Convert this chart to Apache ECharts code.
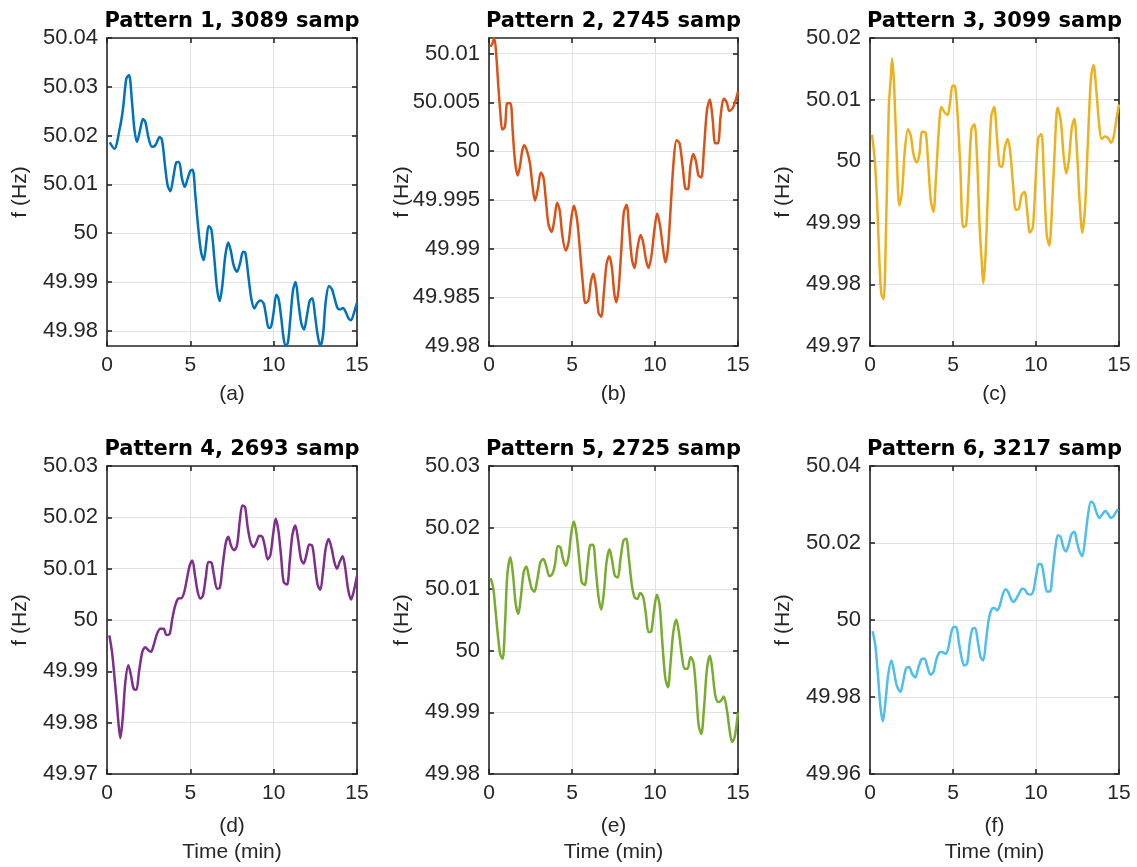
<!DOCTYPE html>
<html>
<head>
<meta charset="utf-8">
<script src="https://cdn.jsdelivr.net/npm/echarts@6/dist/echarts.min.js"></script>
<style>
html,body{margin:0;padding:0;background:#fff}
#chart{width:1137px;height:867px}
</style>
</head>
<body>
<div id="chart"></div>
<script>
// Time axis (minutes) and grid frequency (Hz) for each recorded pattern
const t1 = [0.16,0.44,0.76,0.96,1.16,1.32,1.5,1.64,1.8,2.0,2.16,2.3,2.5,2.7,2.9,3.16,3.3,3.5,3.64,3.8,4.0,4.16,4.32,4.5,4.66,4.84,5.0,5.14,5.3,5.46,5.64,5.8,5.96,6.1,6.26,6.44,6.6,6.76,6.92,7.1,7.28,7.44,7.6,7.8,8.0,8.16,8.3,8.5,8.66,8.84,9.0,9.2,9.4,9.54,9.7,9.84,10.0,10.16,10.3,10.46,10.6,10.74,10.86,11.0,11.16,11.32,11.48,11.66,11.82,12.0,12.16,12.32,12.48,12.64,12.8,12.96,13.12,13.32,13.5,13.66,13.84,14.0,14.16,14.32,14.5,14.64,14.8,15.0];
const f1 = [50.0186,50.0173,50.0214,50.0255,50.0317,50.0324,50.0269,50.0214,50.0187,50.0214,50.0234,50.0228,50.0194,50.0177,50.018,50.0197,50.0191,50.0133,50.0098,50.0086,50.0119,50.0145,50.0146,50.0112,50.0095,50.0112,50.0128,50.013,50.0078,50.0016,49.9962,49.9945,49.9982,50.0015,50.0008,49.9948,49.9887,49.9861,49.9893,49.9955,49.9981,49.9962,49.9934,49.9921,49.9941,49.9962,49.996,49.9907,49.9866,49.9846,49.9856,49.9862,49.9856,49.9832,49.9806,49.9808,49.9839,49.9874,49.9865,49.9825,49.9784,49.9769,49.9777,49.9825,49.9883,49.99,49.9859,49.9815,49.9803,49.9832,49.9861,49.9867,49.9832,49.9791,49.9769,49.9791,49.9859,49.9892,49.9885,49.9866,49.9846,49.9844,49.9847,49.9839,49.9825,49.9822,49.9835,49.9858];

const t2 = [0.08,0.2,0.32,0.44,0.56,0.68,0.8,0.96,1.1,1.29,1.43,1.57,1.73,1.87,2.01,2.13,2.31,2.47,2.61,2.77,2.94,3.12,3.28,3.42,3.58,3.78,3.94,4.1,4.26,4.42,4.62,4.79,4.95,5.11,5.31,5.49,5.65,5.81,5.99,6.13,6.29,6.45,6.6,6.76,6.92,7.08,7.24,7.4,7.54,7.66,7.8,7.96,8.12,8.29,8.44,8.61,8.77,8.94,9.13,9.29,9.45,9.61,9.79,9.97,10.13,10.3,10.46,10.62,10.78,10.94,11.12,11.3,11.48,11.66,11.82,11.98,12.14,12.3,12.46,12.62,12.79,12.95,13.13,13.31,13.47,13.63,13.79,13.96,14.14,14.32,14.48,14.68,14.84,15.0];
const f2 = [50.0107,50.011,50.0116,50.0098,50.0067,50.004,50.0022,50.0025,50.0049,50.0049,50.002,49.9989,49.9975,49.9985,50.0001,50.0006,49.9999,49.9987,49.9966,49.9949,49.9961,49.9978,49.9973,49.9951,49.9925,49.9917,49.993,49.9947,49.9939,49.9913,49.9898,49.9906,49.993,49.9944,49.9929,49.9896,49.9865,49.9844,49.9847,49.9865,49.9874,49.9859,49.9834,49.983,49.9855,49.9884,49.9892,49.9881,49.9855,49.9845,49.9857,49.9896,49.9937,49.9945,49.992,49.9889,49.988,49.99,49.9914,49.9906,49.9889,49.988,49.9893,49.992,49.9936,49.9924,49.9903,49.9886,49.99,49.9941,49.9989,50.0011,50.0008,49.9985,49.9962,49.9961,49.9985,49.9997,49.999,49.9975,49.9973,50.0002,50.0042,50.0053,50.0033,50.0008,50.0008,50.0037,50.0054,50.005,50.0041,50.0044,50.0051,50.0061];

const t3 = [0.12,0.28,0.42,0.56,0.68,0.82,0.97,1.13,1.25,1.33,1.45,1.61,1.77,1.93,2.09,2.29,2.45,2.63,2.82,2.98,3.14,3.34,3.5,3.66,3.82,3.98,4.14,4.3,4.5,4.67,4.83,4.97,5.13,5.29,5.45,5.61,5.79,5.95,6.11,6.29,6.45,6.6,6.72,6.82,6.96,7.12,7.3,7.48,7.64,7.8,7.96,8.12,8.3,8.46,8.62,8.79,8.97,9.13,9.31,9.47,9.63,9.81,9.97,10.13,10.32,10.48,10.64,10.8,10.98,11.14,11.3,11.5,11.66,11.82,11.98,12.15,12.31,12.47,12.63,12.79,12.95,13.11,13.31,13.47,13.63,13.79,13.95,14.16,14.36,14.52,14.68,14.84,15.0];
const f3 = [50.0043,50.0004,49.9939,49.9842,49.9785,49.9776,49.9896,50.0086,50.0135,50.0167,50.0124,50.001,49.9928,49.995,50.0015,50.0052,50.0042,50.001,49.9998,50.0012,50.0048,50.0047,49.9999,49.9937,49.9918,49.9977,50.0048,50.0088,50.0079,50.0075,50.0097,50.0123,50.0121,50.0069,49.9983,49.9893,49.9896,49.9972,50.0052,50.006,50.0004,49.9896,49.9842,49.9802,49.9847,49.9961,50.0072,50.0088,50.0042,49.9993,49.9991,50.0022,50.0036,50.0012,49.9961,49.9921,49.9923,49.9945,49.995,49.9918,49.9884,49.9893,49.9966,50.0037,50.0044,49.9972,49.9882,49.9863,49.9934,50.0026,50.0087,50.0064,50.001,49.998,50.0002,50.0053,50.0069,50.0015,49.9934,49.9884,49.9923,50.0021,50.0135,50.0156,50.0116,50.0064,50.0036,50.004,50.0037,50.003,50.004,50.0067,50.0092];

const t4 = [0.14,0.3,0.44,0.6,0.7,0.8,0.94,1.1,1.28,1.44,1.6,1.76,1.92,2.12,2.3,2.48,2.64,2.8,3.0,3.2,3.4,3.56,3.76,3.92,4.1,4.28,4.48,4.64,4.8,4.96,5.12,5.28,5.44,5.6,5.76,5.92,6.08,6.26,6.42,6.6,6.76,6.94,7.12,7.28,7.44,7.62,7.8,7.96,8.12,8.28,8.44,8.62,8.8,8.96,9.14,9.32,9.48,9.64,9.8,9.96,10.12,10.28,10.44,10.6,10.8,10.96,11.12,11.3,11.46,11.64,11.8,11.96,12.14,12.32,12.48,12.64,12.8,12.96,13.12,13.3,13.48,13.64,13.8,13.96,14.14,14.3,14.46,14.64,14.8,15.0];
const f4 = [49.997,49.9938,49.9892,49.9834,49.9795,49.977,49.9808,49.9879,49.9912,49.9892,49.9866,49.9864,49.9899,49.9938,49.9947,49.9941,49.9938,49.9951,49.9973,49.9983,49.9983,49.9971,49.9973,50.0003,50.0029,50.0042,50.0043,50.0055,50.0081,50.0106,50.0116,50.0087,50.0055,50.0042,50.0048,50.0081,50.0113,50.0112,50.0087,50.0061,50.0062,50.0106,50.0149,50.0162,50.0145,50.0136,50.0145,50.0191,50.0223,50.022,50.0181,50.0151,50.0142,50.0151,50.0164,50.0162,50.0142,50.0118,50.0126,50.0165,50.0197,50.0175,50.0126,50.0074,50.0069,50.0113,50.0165,50.0184,50.0158,50.0119,50.011,50.0126,50.0147,50.0144,50.0106,50.0068,50.0059,50.0094,50.0139,50.0158,50.0139,50.0113,50.01,50.0113,50.0124,50.01,50.0061,50.004,50.0055,50.0086];

const t5 = [0.1,0.26,0.4,0.56,0.68,0.82,0.97,1.1,1.29,1.45,1.61,1.77,1.93,2.09,2.25,2.41,2.57,2.73,2.9,3.1,3.28,3.46,3.64,3.82,3.98,4.14,4.3,4.46,4.62,4.79,4.95,5.11,5.27,5.43,5.59,5.77,5.93,6.09,6.27,6.43,6.6,6.76,6.92,7.08,7.26,7.42,7.58,7.76,7.92,8.1,8.26,8.43,8.61,8.77,8.93,9.11,9.29,9.45,9.61,9.77,9.93,10.11,10.28,10.44,10.62,10.78,10.94,11.1,11.28,11.44,11.62,11.78,11.96,12.14,12.31,12.47,12.63,12.79,12.95,13.13,13.31,13.47,13.63,13.81,13.98,14.14,14.32,14.48,14.64,14.8,15.0];
const f5 = [50.0118,50.0101,50.0063,50.0019,49.9994,49.9987,50.0046,50.0122,50.0152,50.0122,50.0076,50.006,50.009,50.0128,50.0137,50.0119,50.0101,50.0096,50.0114,50.0144,50.0149,50.0136,50.0121,50.0125,50.0141,50.017,50.0168,50.0149,50.0138,50.0152,50.019,50.021,50.019,50.0149,50.0111,50.0107,50.0138,50.0171,50.0172,50.0133,50.0087,50.0067,50.0095,50.0144,50.0165,50.0146,50.0122,50.0119,50.0149,50.0179,50.0182,50.0149,50.0106,50.0087,50.0084,50.0094,50.0087,50.006,50.003,50.0031,50.0063,50.0091,50.0074,50.0014,49.9956,49.9941,49.9982,50.003,50.0051,50.003,49.9992,49.9971,49.9971,49.999,49.9982,49.9938,49.9879,49.9865,49.9906,49.9971,49.9992,49.9965,49.9928,49.9917,49.9919,49.9926,49.9906,49.9874,49.9852,49.986,49.99];

const t6 = [0.16,0.32,0.48,0.64,0.78,0.93,1.09,1.29,1.45,1.61,1.83,1.99,2.17,2.35,2.53,2.73,2.9,3.1,3.28,3.46,3.64,3.82,3.98,4.16,4.34,4.54,4.71,4.87,5.03,5.19,5.35,5.51,5.67,5.85,6.01,6.17,6.33,6.5,6.66,6.82,6.98,7.16,7.34,7.5,7.66,7.82,7.98,8.16,8.32,8.49,8.65,8.81,8.97,9.17,9.33,9.49,9.67,9.83,10.01,10.17,10.34,10.5,10.66,10.84,11.0,11.16,11.32,11.48,11.64,11.8,11.96,12.13,12.31,12.47,12.63,12.79,12.95,13.13,13.31,13.47,13.63,13.81,13.99,14.18,14.36,14.52,14.68,14.84,14.96];
const f6 = [49.9971,49.9934,49.9856,49.977,49.9737,49.9787,49.9856,49.9895,49.9865,49.983,49.9813,49.9839,49.9874,49.9878,49.9861,49.9851,49.9874,49.9898,49.99,49.9878,49.9858,49.9865,49.9895,49.9915,49.9917,49.9912,49.9926,49.9962,49.9982,49.9982,49.9943,49.9904,49.9882,49.9887,49.9943,49.9977,49.9979,49.9943,49.9904,49.9895,49.9943,50.0003,50.0029,50.0031,50.0025,50.0038,50.0064,50.008,50.0073,50.0055,50.0047,50.0055,50.0068,50.0081,50.0079,50.0068,50.0066,50.0074,50.0116,50.0146,50.0144,50.0107,50.0074,50.0074,50.0125,50.0185,50.022,50.0216,50.019,50.0178,50.0194,50.0222,50.0229,50.0201,50.0177,50.0166,50.0207,50.0272,50.0308,50.0302,50.0281,50.0265,50.0274,50.0284,50.0274,50.0265,50.027,50.0282,50.0287];

// Tick values
const xTicks = [0, 5, 10, 15];
const yTicks1 = [49.98, 49.99, 50, 50.01, 50.02, 50.03, 50.04];
const yTicks2 = [49.98, 49.985, 49.99, 49.995, 50, 50.005, 50.01];
const yTicks3 = [49.97, 49.98, 49.99, 50, 50.01, 50.02];
const yTicks4 = [49.97, 49.98, 49.99, 50, 50.01, 50.02, 50.03];
const yTicks5 = [49.98, 49.99, 50, 50.01, 50.02, 50.03];
const yTicks6 = [49.96, 49.98, 50, 50.02, 50.04];

// Text
const titles = ['Pattern 1, 3089 samp', 'Pattern 2, 2745 samp', 'Pattern 3, 3099 samp',
                'Pattern 4, 2693 samp', 'Pattern 5, 2725 samp', 'Pattern 6, 3217 samp'];
const tags = ['(a)', '(b)', '(c)', '(d)', '(e)', '(f)'];
const xName = 'Time (min)';
const yName = 'f (Hz)';

// Per-panel setup
const panels = [
  { t: t1, f: f1, ticks: yTicks1, yMin: 49.9769, yMax: 50.04,   color: '#0072BD' },
  { t: t2, f: f2, ticks: yTicks2, yMin: 49.98,   yMax: 50.0116, color: '#D95319' },
  { t: t3, f: f3, ticks: yTicks3, yMin: 49.97,   yMax: 50.02,   color: '#EDB120' },
  { t: t4, f: f4, ticks: yTicks4, yMin: 49.97,   yMax: 50.03,   color: '#7E2F8E' },
  { t: t5, f: f5, ticks: yTicks5, yMin: 49.98,   yMax: 50.03,   color: '#77AC30' },
  { t: t6, f: f6, ticks: yTicks6, yMin: 49.96,   yMax: 50.04,   color: '#4DBEEE' }
];

const cols = [{ left: 107, width: 250 }, { left: 489, width: 249 }, { left: 870, width: 249 }];
const rows = [{ top: 38, height: 308 }, { top: 466, height: 308 }];

const AX = '#262626';
const GRID = '#e2e2e2';
const LABEL_FONT = '"Liberation Sans", Arial, sans-serif';
const fmt = v => String(parseFloat(Number(v).toFixed(3)));

const grid = [], xAxis = [], yAxis = [], series = [], graphic = [];

panels.forEach((p, i) => {
  const c = cols[i % 3], r = rows[Math.floor(i / 3)];
  grid.push({ left: c.left, top: r.top, width: c.width, height: r.height, containLabel: false });
  const cx = c.left + c.width / 2;
  const cy = r.top + r.height / 2;

  const line = { show: true, onZero: false, lineStyle: { color: AX, width: 1.6 } };
  const tick = { show: true, inside: true, length: 5, lineStyle: { color: AX, width: 1.6 } };

  xAxis.push({
    type: 'value', gridIndex: i, position: 'bottom', min: 0, max: 15, interval: 5,
    axisLine: line,
    axisTick: tick,
    axisLabel: { color: AX, fontSize: 21, fontFamily: LABEL_FONT, margin: 9 },
    splitLine: { show: true, lineStyle: { color: GRID, width: 1 } }
  });
  xAxis.push({
    type: 'value', gridIndex: i, position: 'top', min: 0, max: 15, interval: 5,
    axisLine: line, axisTick: tick,
    axisLabel: { show: false }, splitLine: { show: false }
  });
  yAxis.push({
    type: 'value', gridIndex: i, position: 'left', min: p.yMin, max: p.yMax,
    axisLine: line,
    axisTick: Object.assign({ customValues: p.ticks }, tick),
    axisLabel: { customValues: p.ticks, formatter: fmt, color: AX, fontSize: 22, fontFamily: LABEL_FONT, margin: 9 },
    splitLine: { show: true, lineStyle: { color: GRID, width: 1 } }
  });
  yAxis.push({
    type: 'value', gridIndex: i, position: 'right', min: p.yMin, max: p.yMax,
    axisLine: line,
    axisTick: Object.assign({ customValues: p.ticks }, tick),
    axisLabel: { show: false, customValues: p.ticks }, splitLine: { show: false }
  });

  series.push({
    type: 'line', xAxisIndex: 2 * i, yAxisIndex: 2 * i,
    data: p.t.map((t, k) => [t, p.f[k]]),
    showSymbol: false, smooth: 0.3, clip: true, silent: true,
    lineStyle: { color: p.color, width: 2.5 },
    z: 3
  });

  // Subplot title
  graphic.push({
    type: 'text', x: cx, y: r.top - 16, silent: true,
    style: { text: titles[i], align: 'center', verticalAlign: 'middle',
             fill: '#000', fontSize: 21, fontWeight: 'bold', fontFamily: '"DejaVu Sans", sans-serif' }
  });
  // Panel tag under the x axis
  const tagY = r.top + r.height + (i < 3 ? 48 : 52);
  graphic.push({
    type: 'text', x: cx, y: tagY, silent: true,
    style: { text: tags[i], align: 'center', verticalAlign: 'middle',
             fill: AX, fontSize: 21, fontFamily: LABEL_FONT }
  });
  if (i >= 3) {
    graphic.push({
      type: 'text', x: cx, y: tagY + 26, silent: true,
      style: { text: xName, align: 'center', verticalAlign: 'middle',
               fill: AX, fontSize: 21, fontFamily: LABEL_FONT }
    });
  }
  // Y axis name
  graphic.push({
    type: 'text', x: c.left - 87, y: cy, rotation: Math.PI / 2, silent: true,
    style: { text: yName, align: 'center', verticalAlign: 'middle',
             fill: AX, fontSize: 21, fontFamily: LABEL_FONT }
  });
});

const chart = echarts.init(document.getElementById('chart'), null, { renderer: 'canvas' });
chart.setOption({
  backgroundColor: '#ffffff',
  animation: false,
  grid, xAxis, yAxis, series, graphic
});
</script>
</body>
</html>
